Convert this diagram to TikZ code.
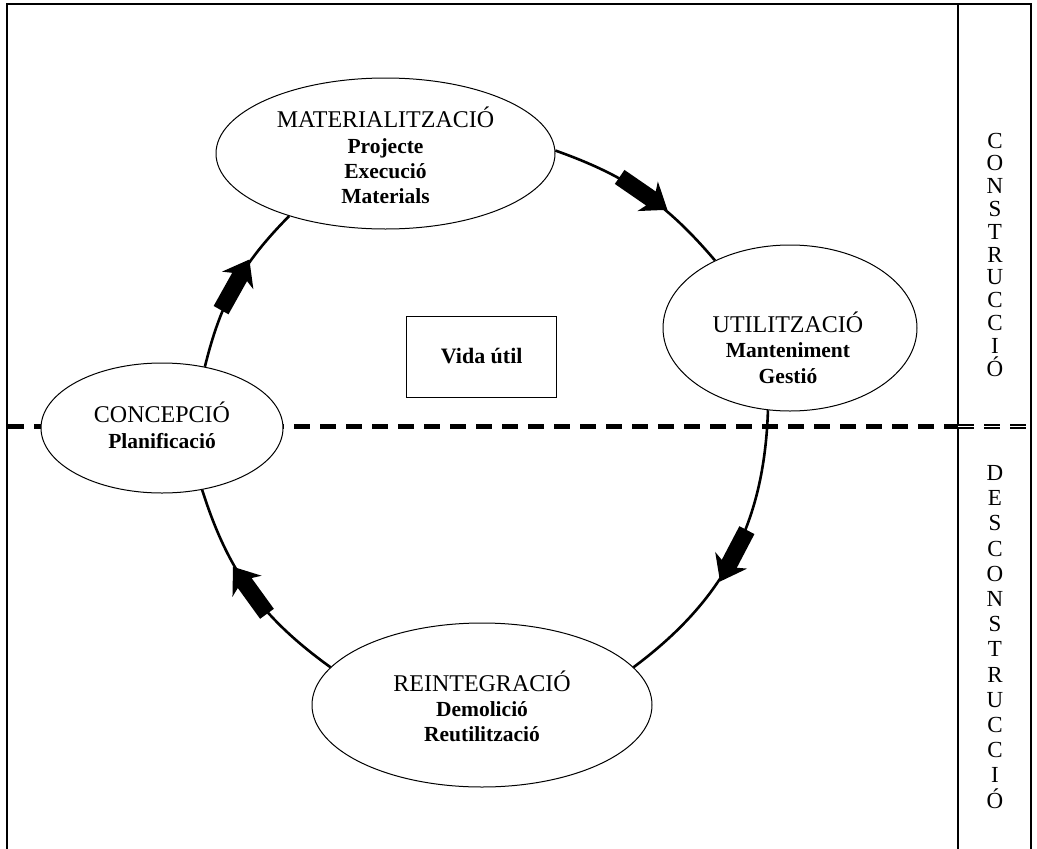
\documentclass[tikz,border=0pt]{standalone}
\usepackage{fontspec}
\setmainfont{Liberation Serif}
\usetikzlibrary{shapes.geometric,decorations.markings,positioning}

\newcommand\etapa[1]{{\fontsize{24}{25.4}\mdseries\selectfont #1}}

\tikzset{
  stage/.style={draw=black, fill=white, ellipse, inner sep=0pt, line width=1pt},
  stagetext/.style={align=center, inner sep=0pt, anchor=base,
    font=\fontsize{21.5}{25.4}\bfseries\selectfont},
  flow/.style={line width=2.6pt, postaction={decorate},
    decoration={markings, mark=at position 0.5 with {
      \fill[black] (-29pt,-8.5pt) -- (9pt,-8.5pt) -- (5pt,-18pt) -- (29pt,0pt)
        -- (5pt,18pt) -- (9pt,8.5pt) -- (-29pt,8.5pt) -- cycle;}}},
  letters/.style={align=center, inner sep=0pt, anchor=base,
    font=\fontsize{23}{25.2}\selectfont},
}

\begin{document}
\begin{tikzpicture}[x=1pt,y=-1pt]
\useasboundingbox (0,0) rectangle (1037,849);
% marc
\draw[line width=1.5pt] (7,849) -- (7,4) -- (1031,4) -- (1031,849);
\draw[line width=1.2pt] (958,4) -- (958,849);
\draw[line width=5pt, dash pattern=on 16pt off 10pt] (8,426) -- (958,426);
\draw[line width=2pt, dash pattern=on 16pt off 10pt, double=white, double distance=1pt] (958,426) -- (1031,426);

% etapes
\node[stage, minimum width=339pt, minimum height=151pt] (mat) at (385.5,153.5) {};
\node[stagetext] (mat-t) at (385.5,203.8) {\etapa{MATERIALITZACIÓ}\\Projecte\\Execució\\Materials};
\node[stage, minimum width=254pt, minimum height=166pt] (util) at (790,328) {};
\node[stagetext] (util-t) at (788,383) {\etapa{UTILITZACIÓ}\\Manteniment\\Gestió};
\node[stage, minimum width=242pt, minimum height=130pt] (conc) at (162,428) {};
\node[stagetext] (conc-t) at (162,448) {\etapa{CONCEPCIÓ}\\Planificació};
\node[stage, minimum width=340pt, minimum height=164pt] (reint) at (482,705) {};
\node[stagetext] (reint-t) at (482,741.9) {\etapa{REINTEGRACIÓ}\\Demolició\\Reutilització};

\node[draw, line width=1pt, minimum width=150pt, minimum height=81pt] (vida) at (481.7,357) {};
\node[font=\fontsize{22}{26}\bfseries\selectfont, anchor=base] (vida-t) at (481.7,363) {Vida útil};

% cicle
\draw[flow] (conc.55) to[bend left=15.5] (mat.213);
\draw[flow] (mat.1) to[bend left=15] (util.138);
\draw[flow] (util.255) to[bend left=25.7] (reint.14);
\draw[flow] (reint.166) to[bend left=18.3] (conc.303);

% columna
\node[letters, font=\fontsize{23}{22.8}\selectfont] (cons) at (995,376) {C\\O\\N\\S\\T\\R\\U\\C\\C\\I\\Ó};
\node[letters] (decons) at (995,808) {D\\E\\S\\C\\O\\N\\S\\T\\R\\U\\C\\C\\I\\Ó};
\end{tikzpicture}
\end{document}
